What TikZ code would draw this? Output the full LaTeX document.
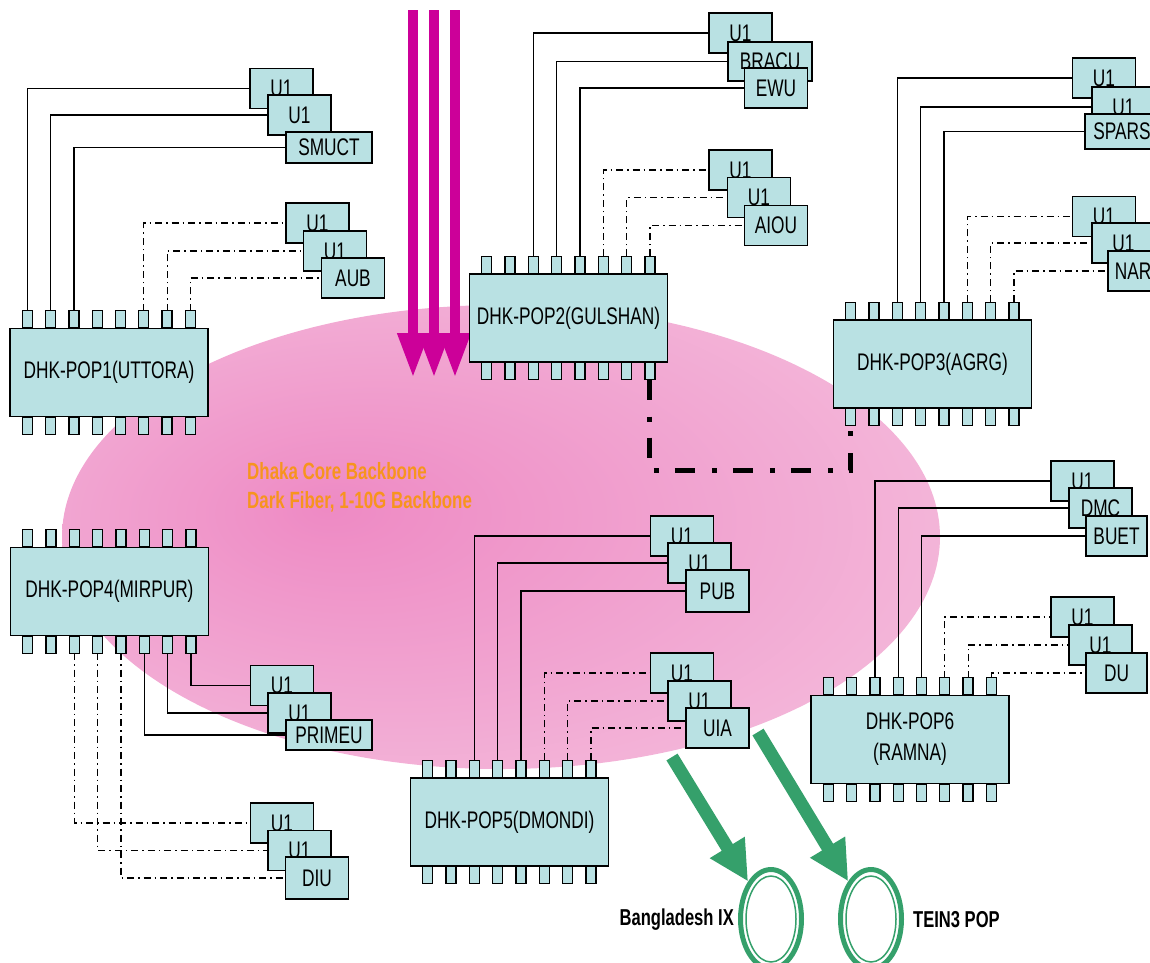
\documentclass[tikz,border=0pt]{standalone}
\usepackage{fontspec}
\setmainfont{Liberation Sans}[FakeStretch=0.72]
\usetikzlibrary{arrows.meta,positioning,shapes.geometric,calc}
\definecolor{popcyan}{HTML}{B9E1E3}
\definecolor{coredark}{HTML}{EE8AC4}
\definecolor{corelight}{HTML}{F7D3E7}
\definecolor{feedmagenta}{HTML}{CC0099}
\definecolor{ixgreen}{HTML}{35A06B}
\definecolor{coreorange}{HTML}{F7941E}
\pgfdeclareradialshading{coreshade}{\pgfpoint{-10bp}{3bp}}{color(0bp)=(coredark); color(50bp)=(corelight)}

\begin{document}
\begin{tikzpicture}[x=1pt,y=-1pt,
  popbox/.style={draw,fill=popcyan,line width=1.4pt,minimum width=198pt,minimum height=88pt,inner sep=0pt,align=center,font=\fontsize{24}{31}\selectfont},
  popleg/.style={draw,fill=popcyan,line width=1.3pt,minimum width=10pt,minimum height=17pt,inner sep=0pt,outer sep=0pt},
  unitbox/.style={draw,fill=popcyan,line width=1.3pt,minimum width=63pt,minimum height=40pt,inner sep=0pt,font=\fontsize{24}{26}\selectfont},
  uplink/.style={line width=1.3pt},
  backup/.style={line width=1.2pt,dash pattern=on 7pt off 4pt on 1.5pt off 4pt},
  corelink/.style={line width=5pt,dash pattern=on 20pt off 17pt on 5pt off 16pt},
  feed/.style={feedmagenta,line width=10pt,-{Triangle[length=45pt,width=29pt]}},
  ixfeed/.style={ixgreen,line width=13pt,-{Triangle[length=40pt,width=38pt]}},
  ixring/.style={ellipse,draw=ixgreen,line width=5pt,minimum width=61pt,minimum height=99pt,inner sep=0pt},
  ixlabel/.style={inner sep=0pt,font=\bfseries\fontsize{23}{26}\selectfont}]
\useasboundingbox (0,0) rectangle (1150,962);
\shade[shading=coreshade] (501,537) ellipse [x radius=439pt,y radius=232pt];
\foreach \x [count=\k] in {413,434,455} {
  \coordinate (feedtop\k) at (\x,10);
  \coordinate (feedtip\k) at (\x,378);
  \draw[feed] (feedtop\k) -- (feedtip\k);
}
\node[popbox] (pop1) at (109,372.5) {DHK-POP1(UTTORA)};
\node[popbox] (pop2) at (568.5,318) {DHK-POP2(GULSHAN)};
\node[popbox] (pop3) at (932.5,364) {DHK-POP3(AGRG)};
\node[popbox] (pop4) at (109.5,591.5) {DHK-POP4(MIRPUR)};
\node[popbox] (pop5) at (509.5,822) {DHK-POP5(DMONDI)};
\node[popbox] (pop6) at (910,739.5) {DHK-POP6\\(RAMNA)};
\foreach \chip in {pop1,pop2,pop3,pop4,pop5,pop6} {
  \foreach \i in {1,...,8} {
    \node[popleg,anchor=south] (\chip t\i) at ($(\chip.north west)+({18+23.3*(\i-1)},0)$) {};
    \node[popleg,anchor=north] (\chip b\i) at ($(\chip.south west)+({18+23.3*(\i-1)},0)$) {};
  }
}
\node[unitbox] (smuA) at (281.5,88.5) {U1};
\node[unitbox] (smuB) at (299.5,115) {U1};
\node[unitbox,minimum width=86pt,minimum height=31pt] (smuct) at (329,147.5) {SMUCT};
\node[unitbox] (aubA) at (317.5,223) {U1};
\node[unitbox] (aubB) at (335,251) {U1};
\node[unitbox] (aub) at (353,278) {AUB};
\node[unitbox] (bracuA) at (740.5,33) {U1};
\node[unitbox,minimum width=84pt,minimum height=39pt] (bracu) at (770,61.5) {BRACU};
\node[unitbox] (ewu) at (776,88) {EWU};
\node[unitbox] (aiouA) at (740.5,170) {U1};
\node[unitbox] (aiouB) at (759,197.5) {U1};
\node[unitbox] (aiou) at (776,225.5) {AIOU};
\node[unitbox] (sparsA) at (1104,78) {U1};
\node[unitbox] (sparsB) at (1123.5,107) {U1};
\node[unitbox,minimum width=74pt,minimum height=35pt] (spars) at (1122,131.5) {SPARS};
\node[unitbox] (narA) at (1104,216.5) {U1};
\node[unitbox] (narB) at (1123.5,243) {U1};
\node[unitbox,minimum width=50pt] (nar) at (1133,271) {NAR};
\node[unitbox] (dmcA) at (1082.5,481) {U1};
\node[unitbox] (dmc) at (1100.5,508) {DMC};
\node[unitbox,minimum width=61pt] (buet) at (1116.5,536) {BUET};
\node[unitbox] (duA) at (1082.5,617) {U1};
\node[unitbox] (duB) at (1100.5,645) {U1};
\node[unitbox,minimum width=61pt] (du) at (1116.5,673) {DU};
\node[unitbox] (pubA) at (682,536) {U1};
\node[unitbox] (pubB) at (699.5,563) {U1};
\node[unitbox,minimum height=42pt] (pub) at (717.5,591) {PUB};
\node[unitbox] (uiaA) at (682,673) {U1};
\node[unitbox] (uiaB) at (699.5,701) {U1};
\node[unitbox] (uia) at (717.5,728) {UIA};
\node[unitbox] (primeuA) at (282,685.5) {U1};
\node[unitbox] (primeuB) at (299.5,713) {U1};
\node[unitbox,minimum width=86pt,minimum height=30pt] (primeu) at (329,735) {PRIMEU};
\node[unitbox] (diuA) at (282,823) {U1};
\node[unitbox] (diuB) at (299.5,850.5) {U1};
\node[unitbox,minimum height=42pt] (diu) at (317,878) {DIU};
\foreach \p/\u in {1/smuA,2/smuB,3/smuct} \draw[uplink] (pop1t\p.north) |- (\u.west);
\foreach \p/\u in {6/aubA,7/aubB,8/aub} \draw[backup] (pop1t\p.north) |- (\u.west);
\foreach \p/\u in {3/bracuA,4/bracu,5/ewu} \draw[uplink] (pop2t\p.north) |- (\u.west);
\foreach \p/\u in {6/aiouA,7/aiouB,8/aiou} \draw[backup] (pop2t\p.north) |- (\u.west);
\foreach \p/\u in {3/sparsA,4/sparsB,5/spars} \draw[uplink] (pop3t\p.north) |- (\u.west);
\foreach \p/\u in {6/narA,7/narB,8/nar} \draw[backup] (pop3t\p.north) |- (\u.west);
\foreach \p/\u in {8/primeuA,7/primeuB,6/primeu} \draw[uplink] (pop4b\p.south) |- (\u.west);
\foreach \p/\u in {3/diuA,4/diuB,5/diu} \draw[backup] (pop4b\p.south) |- (\u.west);
\foreach \p/\u in {3/pubA,4/pubB,5/pub} \draw[uplink] (pop5t\p.north) |- (\u.west);
\foreach \p/\u in {6/uiaA,7/uiaB,8/uia} \draw[backup] (pop5t\p.north) |- (\u.west);
\foreach \p/\u in {3/dmcA,4/dmc,5/buet} \draw[uplink] (pop6t\p.north) |- (\u.west);
\foreach \p/\u in {6/duA,7/duB,8/du} \draw[backup] (pop6t\p.north) |- (\u.west);
\draw[corelink] (pop2b8.south) |- ($(pop3b1.south)+(0,45)$) -- (pop3b1.south);
\node[ixring] (bdix) at (771,919) {};
\draw[ixgreen,line width=1.5pt] (bdix.center) ellipse [x radius=25pt,y radius=43pt];
\node[ixring] (tein) at (871,919) {};
\draw[ixgreen,line width=1.5pt] (tein.center) ellipse [x radius=25pt,y radius=43pt];
\coordinate (ixfrom) at (672,757);
\coordinate (teinfrom) at (758,732);
\draw[ixfeed] (ixfrom) -- (bdix);
\draw[ixfeed] (teinfrom) -- (tein);
\node[ixlabel,left=4pt of bdix,yshift=-1pt] (bdixname) {Bangladesh IX};
\node[ixlabel,right=9pt of tein,yshift=-1pt] (teinname) {TEIN3 POP};
\node[anchor=west,align=left,inner sep=0pt,text=coreorange,font=\bfseries\fontsize{23.5}{29}\selectfont] (corename) at (247,487.5) {Dhaka Core Backbone\\Dark Fiber, 1-10G Backbone};
\end{tikzpicture}
\end{document}
